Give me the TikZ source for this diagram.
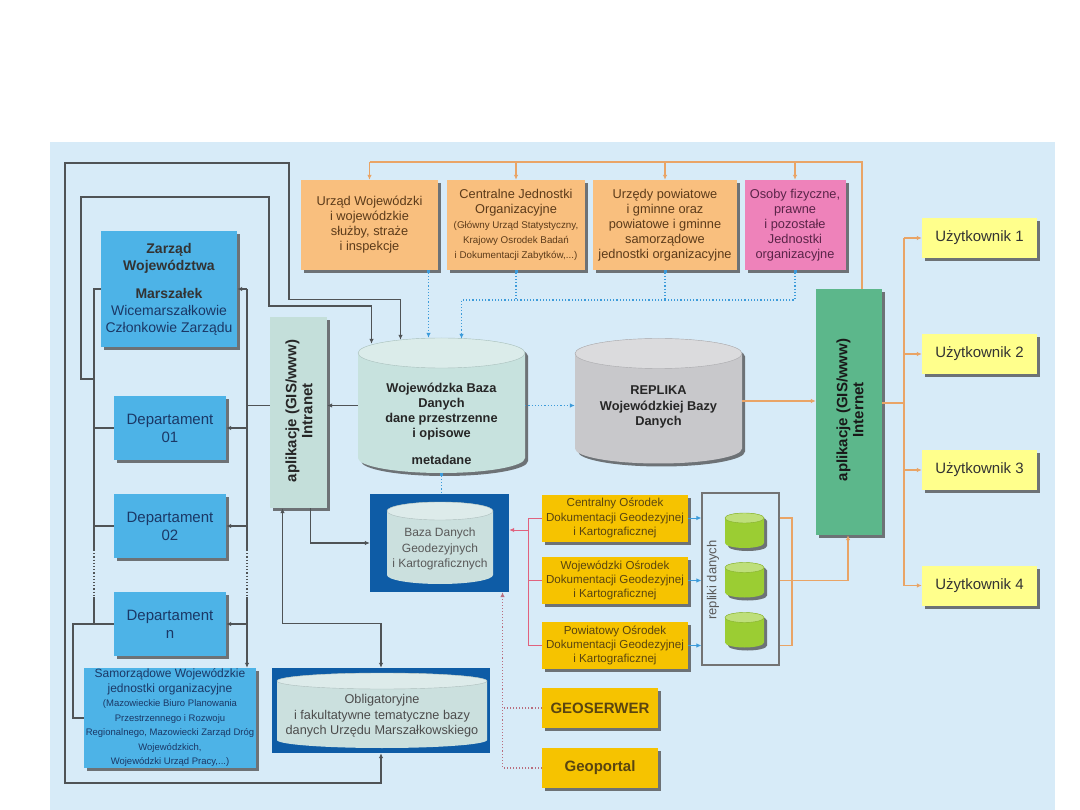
\documentclass[tikz,border=0pt]{standalone}
\usepackage{fontspec}
\setmainfont{Liberation Sans}
\usetikzlibrary{arrows.meta,shadows}

\definecolor{bgblue}{HTML}{D7EBF8}
\definecolor{peach}{HTML}{F9BF7E}
\definecolor{peachtext}{HTML}{5C3B1A}
\definecolor{rose}{HTML}{EE82BA}
\definecolor{rosetext}{HTML}{5A2448}
\definecolor{zblue}{HTML}{4DB3E7}
\definecolor{navy}{HTML}{1B3866}
\definecolor{intra}{HTML}{C4DFDA}
\definecolor{dbteal}{HTML}{C7E2DE}
\definecolor{repgray}{HTML}{C8C8CB}
\definecolor{netgreen}{HTML}{5CB78B}
\definecolor{useryel}{HTML}{FFFF8C}
\definecolor{gold}{HTML}{F6C300}
\definecolor{goldtext}{HTML}{5A4510}
\definecolor{frameblue}{HTML}{0E5CA6}
\definecolor{innercyl}{HTML}{CBE0DE}
\definecolor{lime}{HTML}{9BCD33}
\definecolor{linegray}{HTML}{4F5356}
\definecolor{orangeln}{HTML}{E9A466}
\definecolor{bluedot}{HTML}{3C9BDA}
\definecolor{pinkln}{HTML}{E0627E}

\newcommand\smallfnt{\fontsize{9.8}{12}\selectfont}
\newcommand\tinyfnt{\fontsize{9.5}{11.5}\selectfont}
\newcommand\dbcyl[8]{%
  \fill[#8,#1] (#3-#5/2,#4-#6/2+#7) -- (#3-#5/2,#4+#6/2-#7)
    arc[start angle=180,end angle=0,x radius=#5/2,y radius=#7]
    -- (#3+#5/2,#4-#6/2+#7)
    arc[start angle=0,end angle=-180,x radius=#5/2,y radius=#7] -- cycle;
  \filldraw[fill=#8!65!white, draw=#8!85!black, line width=.4pt] (#3,#4-#6/2+#7) ellipse[x radius=#5/2, y radius=#7];
  \node[inner sep=0pt, minimum width=#5pt, minimum height=#6pt] (#2) at (#3,#4) {};
}

\begin{document}
\begin{tikzpicture}[x=1pt, y=-1pt, >={Latex[length=5pt,width=4.5pt]},
  dropsh/.style={drop shadow={shadow xshift=3pt, shadow yshift=-3pt, opacity=.7, fill=black!75}},
  box/.style={rectangle, inner sep=1pt, align=center, dropsh},
  topbox/.style={box, fill=peach, text=peachtext, minimum height=90pt, font=\fontsize{12.8}{15}\selectfont},
  bluebox/.style={box, fill=zblue, text=navy, minimum width=112pt, minimum height=64pt, font=\fontsize{15}{18}\selectfont},
  user/.style={box, fill=useryel, text=black!80, minimum width=115pt, minimum height=40pt, font=\fontsize{15}{17}\selectfont},
  goldbox/.style={box, fill=gold, text=goldtext, minimum width=146pt, minimum height=47pt, font=\fontsize{11.6}{14.2}\selectfont},
  dbframe/.style={rectangle, fill=frameblue, inner sep=0pt},
  vtext/.style={rotate=90, align=center, font=\bfseries\fontsize{15}{16}\selectfont},
  link/.style={draw=linegray, line width=1.2pt},
  olink/.style={draw=orangeln, line width=1.2pt},
  bdot/.style={draw=bluedot, line width=1.2pt, dotted},
  plink/.style={draw=pinkln, line width=1pt},
  rdot/.style={draw=pinkln!60!gray, line width=1.1pt, dotted}]

\useasboundingbox (0,0) rectangle (1080,810);
\fill[bgblue] (50,142) rectangle (1055,810);

\node[topbox, minimum width=137pt] (uw) at (369.5,225) {Urząd Wojewódzki\\i wojewódzkie\\służby, straże\\i inspekcje};
\node[topbox, minimum width=138pt] (cj) at (516,225) {Centralne Jednostki\\Organizacyjne\\\smallfnt(Główny Urząd Statystyczny,\\\smallfnt Krajowy Osrodek Badań\\\smallfnt i Dokumentacji Zabytków,...)};
\node[topbox, minimum width=144pt] (up) at (665,225) {Urzędy powiatowe\\i gminne oraz\\powiatowe i gminne\\samorządowe\\jednostki organizacyjne};
\node[topbox, fill=rose, text=rosetext, minimum width=101pt] (osoby) at (795,225) {Osoby fizyczne,\\prawne\\i pozostałe\\Jednostki\\organizacyjne};

\node[bluebox, minimum width=136pt, minimum height=116pt, font=\fontsize{14}{17}\selectfont] (zarzad) at (169,289) {\textbf{\color{black!80}Zarząd}\\\textbf{\color{black!80}Województwa}\\[11pt]\textbf{\color{black!80}Marszałek}\\Wicemarszałkowie\\Członkowie Zarządu};
\node[bluebox] (dep01) at (170,428) {Departament\\01};
\node[bluebox] (dep02) at (170,526) {Departament\\02};
\node[bluebox] (depn) at (170,624) {Departament\\n};
\node[bluebox, minimum width=172pt, minimum height=100pt, font=\fontsize{12}{14.5}\selectfont] (sam) at (170,718) {Samorządowe Wojewódzkie\\jednostki organizacyjne\\\tinyfnt(Mazowieckie Biuro Planowania\\\tinyfnt Przestrzennego i Rozwoju\\\tinyfnt Regionalnego, Mazowiecki Zarząd Dróg\\\tinyfnt Wojewódzkich,\\\tinyfnt Wojewódzki Urząd Pracy,...)};

\node[box, fill=intra, minimum width=57pt, minimum height=191pt] (intranet) at (298.5,412.5) {};
\node[vtext, text=black!85] at (299,411) {aplikacje (GIS/www)\\Intranet};

\dbcyl{dropsh}{wojdb}{441.5}{405.5}{167}{135}{15}{dbteal}
\node[align=center, font=\bfseries\fontsize{12.8}{15}\selectfont, text=black!85] at (441.5,424) {Wojewódzka Baza\\Danych\\dane przestrzenne\\i opisowe\\[12pt]metadane};

\dbcyl{dropsh}{replika}{658.5}{401}{167}{125}{15}{repgray}
\node[align=center, font=\bfseries\fontsize{12.8}{15.5}\selectfont, text=black!85] at (658.5,407) {REPLIKA\\Wojewódzkiej Bazy\\Danych};

\node[box, fill=netgreen, minimum width=66pt, minimum height=246pt] (internet) at (849,412) {};
\node[vtext, text=black!90] at (850,410) {aplikacje (GIS/www)\\Internet};

\foreach \i/\y in {1/238,2/354,3/470,4/585.5}
  \node[user] (u\i) at (979.5,\y) {Użytkownik \i};

\node[dbframe, minimum width=139pt, minimum height=98pt] (baza) at (439.5,543) {};
\dbcyl{}{bazacyl}{440}{543}{106}{82}{9}{innercyl}
\node[align=center, font=\fontsize{12}{15.5}\selectfont, text=black!65] at (440,549) {Baza Danych\\Geodezyjnych\\i Kartograficznych};

\node[dbframe, minimum width=218pt, minimum height=85pt] (obl) at (381,710.5) {};
\dbcyl{}{oblcyl}{382}{710.5}{210}{75}{8}{innercyl}
\node[align=center, font=\fontsize{12.7}{15.5}\selectfont, text=black!70] at (382,716) {Obligatoryjne\\i fakultatywne tematyczne bazy\\danych Urzędu Marszałkowskiego};

\node[goldbox] (cod) at (615,518) {Centralny Ośrodek\\Dokumentacji Geodezyjnej\\i Kartograficznej};
\node[goldbox] (wod) at (615,580.5) {Wojewódzki Ośrodek\\Dokumentacji Geodezyjnej\\i Kartograficznej};
\node[goldbox] (pod) at (615,645.5) {Powiatowy Ośrodek\\Dokumentacji Geodezyjnej\\i Kartograficznej};
\node[goldbox, minimum width=116pt, minimum height=40pt, font=\bfseries\fontsize{15}{17}\selectfont] (geoserwer) at (600,708) {GEOSERWER};
\node[goldbox, minimum width=116pt, minimum height=40pt, font=\bfseries\fontsize{15}{17}\selectfont] (geoportal) at (600,768) {Geoportal};

\node[draw=black!55, line width=1.2pt, minimum width=77pt, minimum height=172pt, inner sep=0pt] (rep) at (740.5,579) {};
\node[rotate=90, font=\fontsize{13}{15}\selectfont, text=black!65] at (713,580) {repliki danych};
\foreach \i/\y in {1/530.5,2/580,3/630}
  {\dbcyl{dropsh}{r\i}{744.5}{\y}{39}{35}{5}{lime}}

\coordinate (lbus) at (94,289);
\coordinate (rbus) at (247,289);
\coordinate (gapa) at (0,550);
\coordinate (gapb) at (0,597);
\coordinate (lj) at (94,379);

\draw[link] (zarzad.west) -- (lbus) -- (lbus |- gapa);
\draw[link, dotted] (lbus |- gapa) -- (lbus |- gapb);
\draw[link] (lbus |- gapb) -- (lbus |- depn.west);
\foreach \d in {dep01,dep02,depn}
  \draw[link] (lbus |- \d.west) -- (\d.west);
\draw[link] (lbus |- depn.west) -- ++(-21,0) |- (sam.west);

\draw[link,->] (rbus) -- (zarzad.east);
\draw[link] (rbus) -- (rbus |- gapa);
\draw[link, dotted] (rbus |- gapa) -- (rbus |- gapb);
\draw[link,->] (rbus |- gapb) -- (rbus |- sam.north);
\foreach \d in {dep01,dep02,depn}
  \draw[link,->] (rbus |- \d.east) -- (\d.east);
\draw[link] (rbus |- wojdb.west) -- (intranet.west |- wojdb.west);
\draw[link,->] (wojdb.west) -- (wojdb.west -| intranet.east);

\draw[link,->] (lj) -| (81,197) -| (269,306) -| ([xshift=-70pt,yshift=-6pt]wojdb.north);
\draw[link,<->] ([xshift=-41pt,yshift=-2pt]wojdb.north) -- ++(0,-40) -| (289,163) -| (65,783) -| (obl.south);
\draw[link,->] ([xshift=12pt]intranet.south) |- (baza.west);
\draw[link,<->] ([xshift=-16pt]intranet.south) -- ++(0,115) -| (obl.north);

\coordinate (otop) at (862,162);
\draw[olink] ([xshift=13pt]internet.north) -- (otop) -- (otop -| uw.north);
\foreach \t in {uw,cj,up,osoby}
  \draw[olink,->] (otop -| \t.north) -- (\t.north);
\draw[olink,->] (replika.east) -- (replika.east -| internet.west);

\coordinate (ubus) at (904,403);
\draw[olink] (ubus -| internet.east) -- (ubus);
\draw[olink] (ubus |- u1.west) -- (ubus |- u4.west);
\foreach \i in {1,...,4}
  \draw[olink,->] (ubus |- u\i.west) -- (u\i.west);

\coordinate (rb) at (792,518);
\draw[olink] (cod.east -| rep.east) -- (rb) -- (rb |- pod.east) -- (pod.east -| rep.east);
\draw[olink,->] (wod.east -| rep.east) -| ([xshift=-1pt]internet.south);

\foreach \g in {cod,wod,pod}
  \draw[draw=bluedot, line width=1pt, ->] (\g.east) -- (\g.east -| rep.west);

\coordinate (uwd) at ([xshift=59pt]uw.south);
\coordinate (bj) at ([xshift=20pt]wojdb.north);
\coordinate (bh) at (0,300);
\draw[bdot, {Square[length=3pt]}->] (uwd) -- (uwd |- wojdb.north);
\draw[bdot, {Square[length=3pt]}-] (cj.south) -- (cj.south |- bh);
\draw[bdot, {Square[length=3pt]}-] (up.south) -- (up.south |- bh);
\draw[bdot, {Square[length=3pt]}->] (osoby.south) |- (bj |- bh) -- ([yshift=-1pt]bj);
\draw[bdot,->] (wojdb.east) -- (wojdb.east -| replika.west);
\draw[bdot, {Square[length=3pt]}-] (wojdb.south) -- (wojdb.south |- baza.north);

\coordinate (pb) at (528,530);
\draw[plink] (cod.west) -| (pb |- pod.west) -- (pod.west);
\draw[plink] (wod.west) -- (wod.west -| pb);
\draw[plink,->] (pb) -- (pb -| baza.east);

\coordinate (gd) at ([xshift=63pt]baza.south);
\draw[rdot] (geoserwer.west) -- (geoserwer.west -| gd);
\draw[rdot,->] (geoportal.west) -| (gd);
\end{tikzpicture}
\end{document}
